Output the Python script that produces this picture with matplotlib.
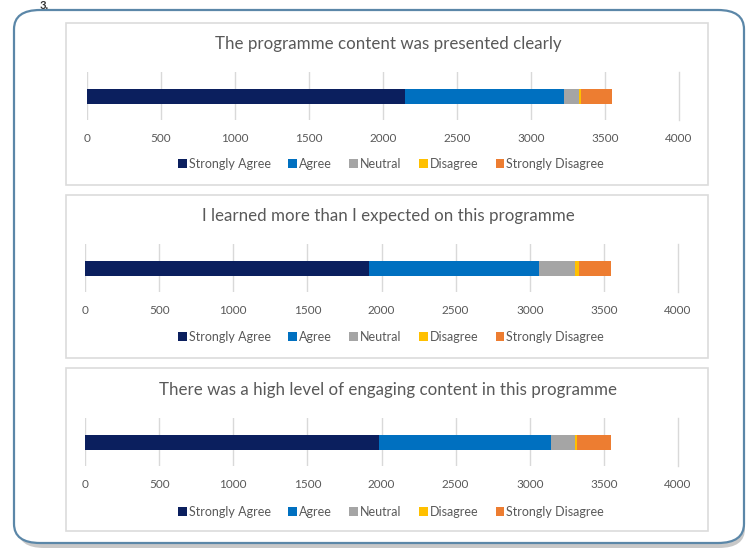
import matplotlib.pyplot as plt
from matplotlib.patches import FancyBboxPatch, Rectangle

plt.rcParams['font.family'] = ['Lato', 'DejaVu Sans']

W, H = 747, 549

categories = ['Strongly Agree', 'Agree', 'Neutral', 'Disagree', 'Strongly Disagree']
colors = ['#0b1f5e', '#0070c0', '#a5a5a5', '#ffc000', '#ed7d31']

titles = ['The programme content was presented clearly',
          'I learned more than I expected on this programme',
          'There was a high level of engaging content in this programme']

q1 = [2146, 1075, 105, 10, 210]
q2 = [1919, 1141, 247, 22, 218]
q3 = [1980, 1163, 165, 14, 226]
responses = [q1, q2, q3]

ticks = [0, 500, 1000, 1500, 2000, 2500, 3000, 3500, 4000]

# panel layout in pixels: box (x0, y0, x1, y1), plot area (x0, y0, x1, y1), title y, legend y
panels = [
    ((66, 23, 708, 185), (87, 72, 679, 120), 44, 164),
    ((66, 195, 708, 358), (85, 244, 678, 292), 216, 337),
    ((66, 368, 708, 531), (85, 418, 678, 466), 390, 512),
]

fig = plt.figure(figsize=(W / 100, H / 100), dpi=100)
fig.patch.set_facecolor('white')


def fx(px):
    return px / W


def fy(py):
    return 1 - py / H


# outer frame with a soft shadow underneath
shadow = FancyBboxPatch((fx(18), fy(548)), fx(727), (544 - 14) / H,
                        boxstyle='round,pad=0,rounding_size=0.035',
                        transform=fig.transFigure, facecolor='#c8c8c8',
                        edgecolor='none', zorder=0)
fig.patches.append(shadow)
frame = FancyBboxPatch((fx(14), fy(543)), fx(730), (543 - 10) / H,
                       boxstyle='round,pad=0,rounding_size=0.035',
                       transform=fig.transFigure, facecolor='white',
                       edgecolor='#5b87a8', linewidth=1.6, zorder=1)
fig.patches.append(frame)
fig.text(fx(40), fy(0), '3.', fontsize=8, fontweight='bold', color='#333333',
         ha='left', va='top')

for (box, area, ty, ly), title, vals in zip(panels, titles, responses):
    bx0, by0, bx1, by1 = box
    fig.patches.append(Rectangle((fx(bx0), fy(by1)), fx(bx1 - bx0), (by1 - by0) / H,
                                 transform=fig.transFigure, facecolor='white',
                                 edgecolor='#dcdcdc', linewidth=1.2, zorder=2))

    ax0, ay0, ax1, ay1 = area
    ax = fig.add_axes([fx(ax0), fy(ay1), fx(ax1 - ax0), (ay1 - ay0) / H], zorder=3)
    ax.patch.set_alpha(0)
    left = 0
    for cat, v, c in zip(categories, vals, colors):
        ax.barh(0, v, left=left, height=1.0, color=c, label=cat, zorder=3)
        left += v
    ax.set_xlim(0, 4000)
    ax.set_ylim(-1.6, 1.6)
    ax.set_xticks(ticks)
    ax.set_yticks([])
    ax.grid(axis='x', color='#d9d9d9', linewidth=1)
    ax.set_axisbelow(True)
    for s in ax.spines.values():
        s.set_visible(False)
    ax.tick_params(axis='x', length=0, pad=9, labelsize=8.5, labelcolor='#595959')
    for lbl in ax.get_xticklabels():
        lbl.set_clip_on(False)
    ax.xaxis.get_gridlines()[-1].set_clip_on(False)

    fig.text(fx((bx0 + bx1) / 2 + 1), fy(ty), title, fontsize=12.2, color='#595959',
             ha='center', va='center')

    leg = ax.legend(loc='center', bbox_to_anchor=(fx(391), fy(ly)),
                    bbox_transform=fig.transFigure, ncol=5, frameon=False,
                    fontsize=9, handlelength=0.7, handleheight=0.7,
                    handletextpad=0.15, columnspacing=1.4, borderpad=0)
    for t in leg.get_texts():
        t.set_color('#595959')

fig.savefig('out.png', dpi=100, facecolor='white')
